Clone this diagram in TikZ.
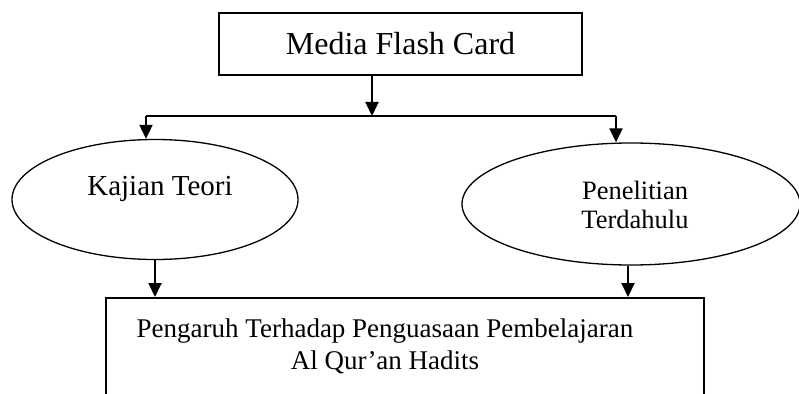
\documentclass[tikz,border=0pt]{standalone}
\usepackage{fontspec}
\setmainfont{Liberation Serif}
\usetikzlibrary{arrows.meta,shapes.geometric}
\begin{document}
\begin{tikzpicture}[x=1pt,y=-1pt,
		kotak/.style={draw,line width=2pt,rectangle,inner sep=0pt},
		lonjong/.style={draw,line width=1.3pt,ellipse,inner sep=0pt},
		garis/.style={line width=2pt},
		panah/.style={line width=2pt,-{Triangle[length=14pt,width=13pt]}}]
	\clip (0,0) rectangle (799,393);
	% kotak atas
	\node[kotak,minimum width=363pt,minimum height=62pt,
		font=\fontsize{32}{36}\selectfont] (media) at (400.5,44) {Media Flash Card};
	\coordinate (cabang) at (372,116);
	\coordinate (kiriatas) at (146,116);
	\coordinate (kananatas) at (616,116);
	% dua elips
	\node[lonjong,minimum width=286pt,minimum height=120pt] (kiri) at (155,199.5) {};
	\node[lonjong,minimum width=338pt,minimum height=122pt] (kanan) at (631,204) {};
	\node[anchor=base,inner sep=0pt,font=\fontsize{29}{33}\selectfont] (kajian) at (160,195)
		{Kajian Teori};
	\node[anchor=north,inner sep=0pt,align=center,font=\fontsize{26.5}{29}\selectfont]
		(penelitian) at (635,181) {Penelitian\\ Terdahulu};
	% kotak bawah
	\node[kotak,minimum width=598pt,minimum height=120pt,anchor=north] (hasil) at (405,297) {};
	\node[anchor=north,inner sep=0pt,align=center,font=\fontsize{27}{32}\selectfont]
		(hasilteks) at (385,318.5) {Pengaruh Terhadap Penguasaan Pembelajaran\\ Al Qur’an Hadits};
	% panah
	\draw[panah] (media.south -| cabang) -- (cabang);
	\draw[garis] (kiriatas) -- (kananatas);
	\draw[panah] (kiriatas) -- (kiriatas |- kiri.north);
	\draw[panah] (kananatas) -- (kananatas |- kanan.north);
	\draw[panah] (kiri.south) -- (kiri.south |- hasil.north);
	\draw[panah] ([xshift=-3pt]kanan.south) -- ([xshift=-3pt]kanan.south |- hasil.north);
\end{tikzpicture}
\end{document}
